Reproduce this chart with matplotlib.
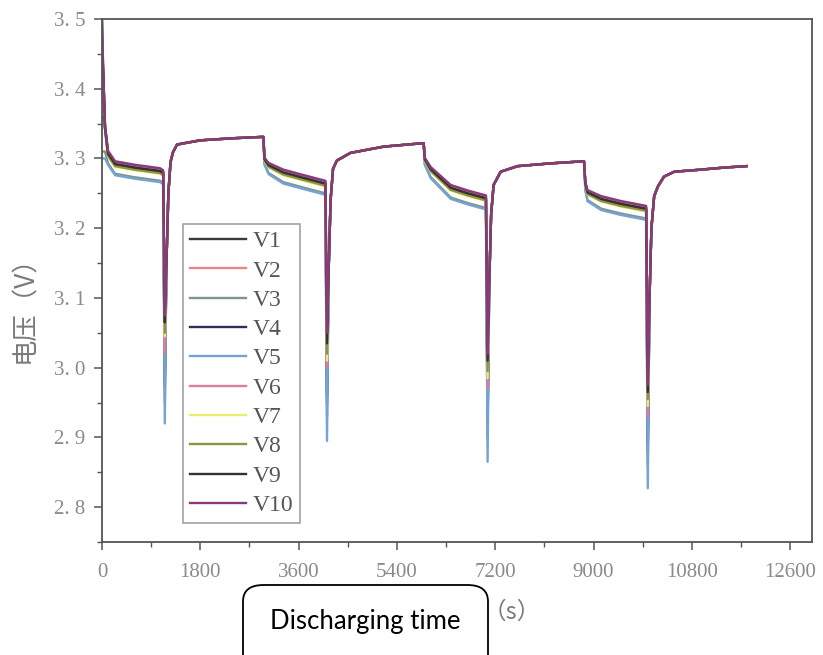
# -*- coding: utf-8 -*-
"""
电池组单体电压曲线（V1~V10），脉冲放电 + 静置恢复
"""
import numpy as np
import matplotlib.pyplot as plt
import matplotlib as mpl
from matplotlib.patches import FancyBboxPatch
from matplotlib.ticker import MultipleLocator, FuncFormatter

# ============================================================
# 数据
# ============================================================
series = ['V1', 'V2', 'V3', 'V4', 'V5', 'V6', 'V7', 'V8', 'V9', 'V10']
colors = ['#3a3a3a', '#e8868a', '#7f9489', '#2e2e5e', '#74a3d4',
          '#dc7da0', '#ecec70', '#8f9440', '#333333', '#8a3a7a']

# 公共时间点 (s)
t_pts = [0, 20, 55, 110, 240, 600, 1065, 1120,
         1150, 1180, 1215, 1255, 1300, 1375, 1800, 2400, 2955,
         2975, 3050, 3320, 3700, 4090,
         4120, 4150, 4185, 4230, 4300, 4550, 5160, 5890,
         5910, 6020, 6385, 6700, 7030,
         7060, 7090, 7125, 7170, 7300, 7610, 8220, 8826,
         8850, 8890, 9140, 9500, 9963,
         9993, 10025, 10060, 10110, 10180, 10290, 10480, 10970, 11400, 11798]

# 主曲线束电压 (V)，脉冲最低点另给
v_base = [3.500, 3.430, 3.346, 3.309, 3.294, 3.289, 3.284, 3.281,
          3.000, 3.150, 3.250, 3.295, 3.309, 3.320, 3.326, 3.329, 3.331,
          3.300, 3.292, 3.282, 3.274, 3.266,
          3.000, 3.140, 3.240, 3.285, 3.297, 3.308, 3.317, 3.322,
          3.300, 3.286, 3.260, 3.252, 3.245,
          3.000, 3.120, 3.220, 3.262, 3.281, 3.289, 3.293, 3.296,
          3.265, 3.253, 3.244, 3.237, 3.230,
          3.000, 3.100, 3.200, 3.246, 3.260, 3.274, 3.281, 3.284, 3.287, 3.289]

# 放电段各单体分散程度的权重
w_spread = [0, 0.3, 0.7, 1, 1, 1, 1, 1,
            0, 0, 0, 0, 0, 0, 0, 0, 0,
            0.5, 0.8, 1, 1, 1,
            0, 0, 0, 0, 0, 0, 0, 0,
            0.5, 0.8, 1, 1, 1,
            0, 0, 0, 0, 0, 0, 0, 0,
            0.6, 0.8, 1, 1, 1,
            0, 0, 0, 0, 0, 0, 0, 0, 0, 0]

dip_t = [1150, 4120, 7060, 9993]

v_start = [3.50, 3.47, 3.31, 3.42, 3.30, 3.45, 3.38, 3.36, 3.44, 3.50]
drop = [0.000, 0.002, 0.016, 0.004, 0.018, 0.001, 0.006, 0.005, 0.002, -0.002]
dip_min = [
    [2.970, 2.950, 2.920, 2.880],
    [2.990, 2.970, 2.940, 2.900],
    [2.950, 2.930, 2.900, 2.860],
    [2.980, 2.960, 2.930, 2.890],
    [2.920, 2.895, 2.865, 2.827],
    [3.020, 3.000, 2.970, 2.930],
    [3.045, 3.010, 2.985, 2.945],
    [3.050, 3.020, 2.995, 2.955],
    [3.065, 3.035, 3.010, 2.965],
    [3.075, 3.050, 3.020, 2.975],
]

yticks = [2.8, 2.9, 3.0, 3.1, 3.2, 3.3, 3.4, 3.5]
xticks = [0, 1800, 3600, 5400, 7200, 9000, 10800, 12600]

# ============================================================
# 绘图
# ============================================================
W, H = 823, 655
fig = plt.figure(figsize=(W / 100, H / 100), dpi=100)
ax = fig.add_axes([102 / W, 1 - 542 / H, 710 / W, 523 / H])

t = np.array(t_pts, dtype=float)
w = np.array(w_spread)
for i, name in enumerate(series):
    v = np.array(v_base) - drop[i] * w
    v[0] = v_start[i]
    v[1:3] = np.minimum(v[1:3], v_start[i])
    for k, td in enumerate(dip_t):
        v[t_pts.index(td)] = dip_min[i][k]
    ax.plot(t, v, color=colors[i], lw=1.7, label=name)

ax.set_xlim(0, 13000)
ax.set_ylim(2.75, 3.5)
ax.set_xticks(xticks)
ax.set_yticks(yticks)
ax.xaxis.set_minor_locator(MultipleLocator(900))
ax.yaxis.set_minor_locator(MultipleLocator(0.05))
ax.yaxis.set_major_formatter(FuncFormatter(lambda y, p: f'{y:.1f}'.replace('.', '. ')))

for lab in ax.get_xticklabels() + ax.get_yticklabels():
    lab.set_fontfamily('Liberation Serif')
    lab.set_fontsize(15)
    lab.set_color('#8a8a8a')
ax.tick_params(which='major', direction='out', length=6, width=1.1, color='#555555', pad=6)
ax.tick_params(axis='x', which='major', pad=9)
ax.tick_params(which='minor', direction='out', length=3.5, width=1.0, color='#555555')
for s in ax.spines.values():
    s.set_color('#555555')
    s.set_linewidth(1.3)

leg = ax.legend(loc='lower left', bbox_to_anchor=(0.114, 0.036),
                prop={'family': 'Liberation Serif', 'size': 17},
                handlelength=2.35, handletextpad=0.3, labelspacing=0.33,
                borderpad=0.3, borderaxespad=0, fancybox=False, framealpha=1)
leg.get_frame().set_edgecolor('#9a9a9a')
leg.get_frame().set_linewidth(1.1)
for txt in leg.get_texts():
    txt.set_color('#555555')

# 坐标轴标题
fig.text(25 / W, 1 - 303 / H, '电压（V）', rotation=90, ha='center', va='center',
         family=['Noto Sans CJK SC', 'DejaVu Sans'], fontsize=19, color='#7a7a7a')
fig.text(512 / W, 1 - 612 / H, '（s）', ha='center', va='center',
         family=['Noto Sans CJK SC', 'DejaVu Sans'], fontsize=17, color='#7a7a7a')

# 覆盖的文字框
box = FancyBboxPatch((243 / W, -0.05), 245 / W, (1 - 585 / H) + 0.05,
                     boxstyle='round,pad=0,rounding_size=0.025',
                     transform=fig.transFigure, facecolor='white',
                     edgecolor='black', linewidth=1.3, clip_on=False)
fig.add_artist(box)
fig.text(365 / W, 1 - 621 / H, 'Discharging time', ha='center', va='center',
         family='Lato', fontsize=18.5, color='black')

fig.savefig('out.png', dpi=100, facecolor='white')
